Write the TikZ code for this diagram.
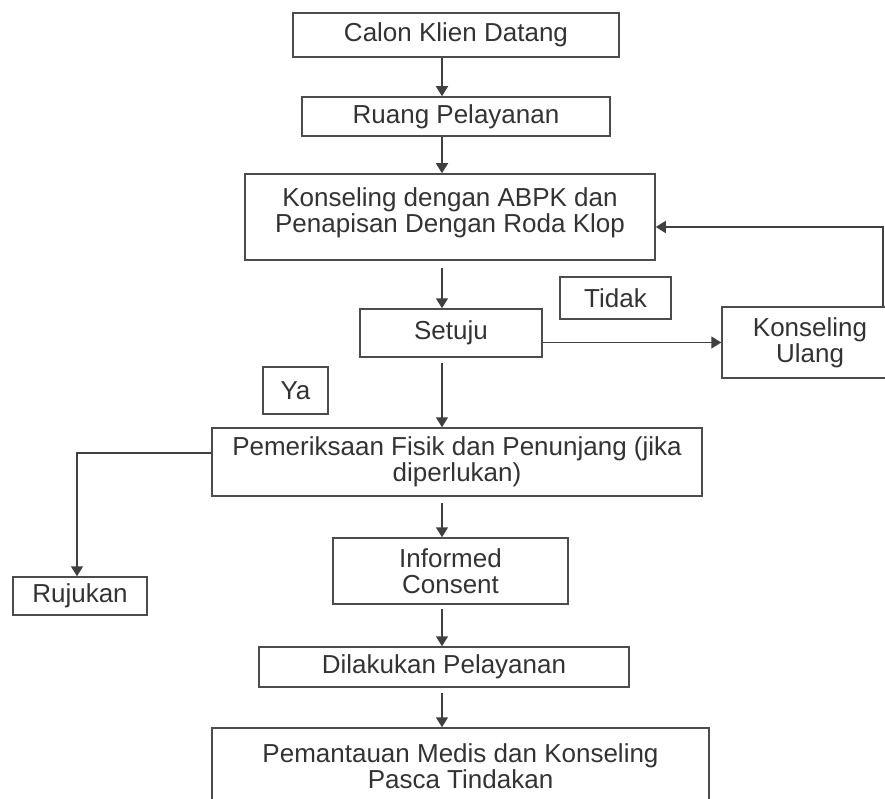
\documentclass[tikz,border=0pt]{standalone}
\usepackage{fontspec}
\setmainfont{Liberation Sans}
\usetikzlibrary{arrows.meta,positioning,calc}

\begin{document}
\begin{tikzpicture}[
    x=1pt, y=-1pt,
    box/.style={rectangle, draw=black!70, line width=1.5pt, text=black!80, align=center, inner sep=2pt,
                font=\fontsize{26}{26}\selectfont},
    arrow/.style={-{Triangle[length=10pt,width=12pt]}, draw=black!75, line width=1.5pt}
]
\clip (0,0) rectangle (885,799);

% Main column
\node[box, minimum width=326, minimum height=44] (calon) at (456,35) {Calon Klien Datang};
\node[box, minimum width=308, minimum height=39] (ruang) at (456,116.5) {Ruang Pelayanan};
\node[box, minimum width=410, minimum height=86, text depth=13pt] (konseling) at (450,217)
    {Konseling dengan ABPK dan\\Penapisan Dengan Roda Klop};
\node[box, minimum width=182, minimum height=48] (setuju) at (451,333) {Setuju};
\node[box, minimum width=490, minimum height=68] (periksa) at (457,462)
    {Pemeriksaan Fisik dan Penunjang (jika\\diperlukan)};
\node[box, minimum width=235, minimum height=66] (informed) at (450.5,571) {Informed\\Consent};
\node[box, minimum width=370, minimum height=40] (layanan) at (444,667) {Dilakukan Pelayanan};
\node[box, minimum width=497, minimum height=77] (pantau) at (460.5,766.5)
    {Pemantauan Medis dan Konseling\\Pasca Tindakan};

% Side boxes
\node[box, minimum width=111, minimum height=42] (tidak) at (615.5,298) {Tidak};
\node[box, minimum width=176, minimum height=71] (ulang) at (810,342.5) {Konseling\\Ulang};
\node[box, minimum width=65, minimum height=47] (ya) at (295.5,390.5) {Ya};
\node[box, minimum width=134, minimum height=38] (rujukan) at (80,596) {Rujukan};

% Helper coordinates
\coordinate (axis) at (442,0);
\coordinate (back) at (883,227);
\coordinate (refer) at (77,453);

% Arrows
\draw[arrow] (calon.south -| axis) -- (ruang.north -| axis);
\draw[arrow] (ruang.south -| axis) -- (konseling.north -| axis);
\draw[arrow, shorten <=7pt] (konseling.south -| axis) -- (setuju.north -| axis);
\draw[arrow, shorten <=5pt] (setuju.south -| axis) -- (periksa.north -| axis);
\draw[arrow, shorten <=6pt] (periksa.south -| axis) -- (informed.north -| axis);
\draw[arrow, shorten <=4pt] (informed.south -| axis) -- (layanan.north -| axis);
\draw[arrow, shorten <=5pt] (layanan.south -| axis) -- (pantau.north -| axis);

\draw[arrow] (setuju.east |- ulang.west) -- (ulang.west);
\draw[arrow] (ulang.north -| back) -- (back) -- (konseling.east |- back);
\draw[arrow] (periksa.west |- refer) -- (refer) -- (rujukan.north -| refer);

\end{tikzpicture}
\end{document}
